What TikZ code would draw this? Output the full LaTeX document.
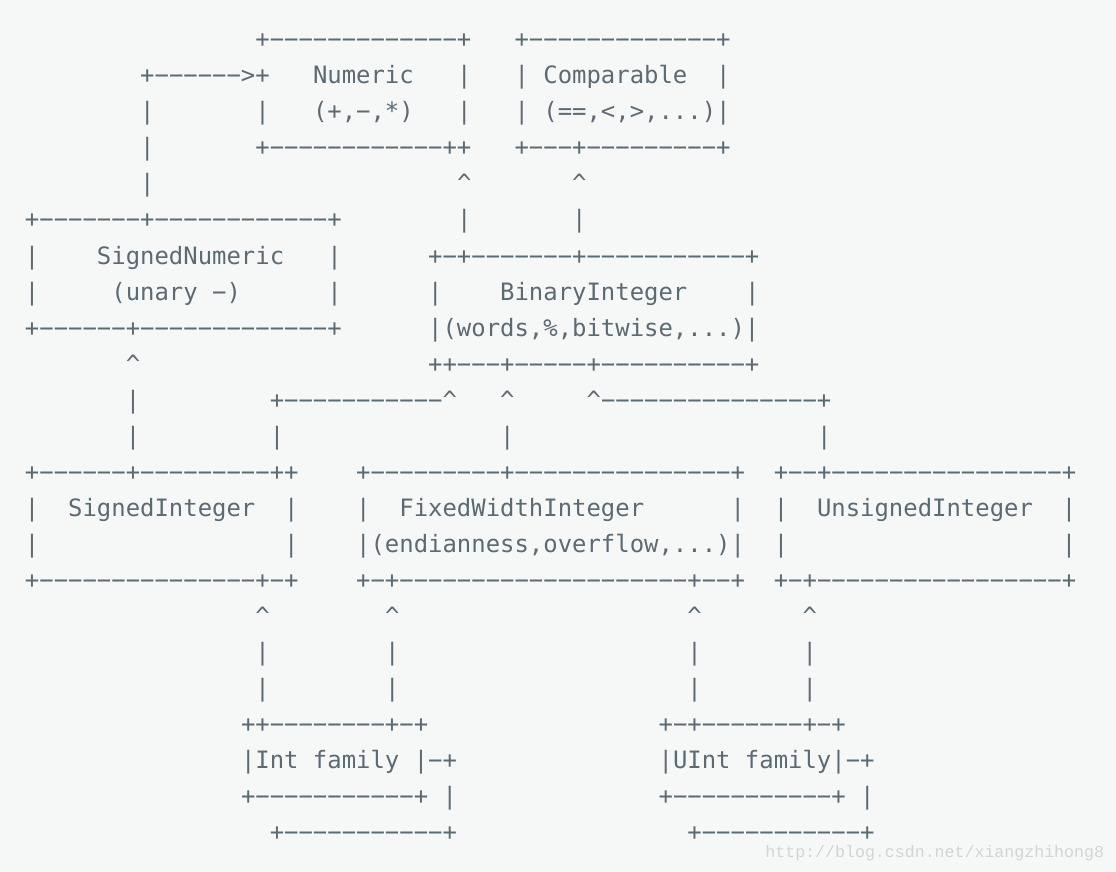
\documentclass[tikz,border=0pt]{standalone}
\usepackage{fontspec}
\setmonofont{DejaVu Sans Mono}
\newfontfamily\wmfont{Liberation Mono}
\usepackage{tikz}
\definecolor{asciigray}{HTML}{5B6B73}
\definecolor{pagegray}{HTML}{F6F7F7}
\definecolor{markgray}{HTML}{D4D4D4}
\tikzstyle{ch} = [anchor=base west, inner sep=0pt, outer sep=0pt, text=asciigray]
\newcommand{\up}{\textasciicircum}
\newcommand{\hl}[1]{\ifnum#1>0 \textminus\hl{\numexpr#1-1\relax}\fi}

\begin{document}
\begin{tikzpicture}[x=7.2pt,y=-18pt]
	\tikzstyle{every node}=[font=\ttfamily\fontsize{11.96}{18}\selectfont]
	\fill[pagegray] (-12.5pt,6pt) rectangle (545.5pt,-430pt);
	\useasboundingbox (-12.5pt,6pt) rectangle (545.5pt,-430pt);
	
	% ------------------- Numeric / Comparable ------------------- %
	\node[ch] (l1a) at (16,1) {+\hl{13}+};
	\node[ch] (l1b) at (34,1) {+\hl{13}+};
	\node[ch] (l2a) at (8,2) {+\hl{6}>+};
	\node[ch] (numeric) at (20,2) {Numeric};
	\node[ch] (l2b) at (30,2) {|};
	\node[ch] (comparable) at (34,2) {| Comparable};
	\node[ch] (l2c) at (48,2) {|};
	\node[ch] (l3a) at (8,3) {|};
	\node[ch] (l3b) at (16,3) {|};
	\node[ch] (numops) at (20,3) {(+,\hl{1},*)};
	\node[ch] (l3c) at (30,3) {|};
	\node[ch] (cmpops) at (34,3) {| (==,<,>,...)|};
	\node[ch] (l4a) at (8,4) {|};
	\node[ch] (l4b) at (16,4) {+\hl{12}++};
	\node[ch] (l4c) at (34,4) {+\hl{3}+\hl{9}+};
	\node[ch] (l5a) at (8,5) {|};
	\node[ch] (l5b) at (30,5) {\up};
	\node[ch] (l5c) at (38,5) {\up};
	
	% ------------------- SignedNumeric / BinaryInteger ------------------- %
	\node[ch] (l6a) at (0,6) {+\hl{7}+\hl{12}+};
	\node[ch] (l6b) at (30,6) {|};
	\node[ch] (l6c) at (38,6) {|};
	\node[ch] (l7a) at (0,7) {|};
	\node[ch] (signednumeric) at (5,7) {SignedNumeric};
	\node[ch] (l7b) at (21,7) {|};
	\node[ch] (l7c) at (28,7) {+\hl{1}+\hl{7}+\hl{11}+};
	\node[ch] (l8a) at (0,8) {|};
	\node[ch] (unary) at (6,8) {(unary \hl{1})};
	\node[ch] (l8b) at (21,8) {|};
	\node[ch] (l8c) at (28,8) {|};
	\node[ch] (binaryinteger) at (33,8) {BinaryInteger};
	\node[ch] (l8d) at (50,8) {|};
	\node[ch] (l9a) at (0,9) {+\hl{6}+\hl{13}+};
	\node[ch] (binops) at (28,9) {|(words,\%,bitwise,...)|};
	\node[ch] (l10a) at (7,10) {\up};
	\node[ch] (l10b) at (28,10) {++\hl{3}+\hl{5}+\hl{10}+};
	\node[ch] (l11a) at (7,11) {|};
	\node[ch] (l11b) at (17,11) {+\hl{11}\up};
	\node[ch] (l11c) at (33,11) {\up};
	\node[ch] (l11d) at (39,11) {\up\hl{15}+};
	\node[ch] (l12a) at (7,12) {|};
	\node[ch] (l12b) at (17,12) {|};
	\node[ch] (l12c) at (33,12) {|};
	\node[ch] (l12d) at (55,12) {|};
	
	% ------------------- SignedInteger / FixedWidthInteger / UnsignedInteger ------------------- %
	\node[ch] (l13a) at (0,13) {+\hl{6}+\hl{9}++};
	\node[ch] (l13b) at (23,13) {+\hl{9}+\hl{15}+};
	\node[ch] (l13c) at (52,13) {+\hl{2}+\hl{16}+};
	\node[ch] (l14a) at (0,14) {|};
	\node[ch] (signedinteger) at (3,14) {SignedInteger};
	\node[ch] (l14b) at (18,14) {|};
	\node[ch] (l14c) at (23,14) {|};
	\node[ch] (fixedwidthinteger) at (26,14) {FixedWidthInteger};
	\node[ch] (l14d) at (49,14) {|};
	\node[ch] (l14e) at (52,14) {|};
	\node[ch] (unsignedinteger) at (55,14) {UnsignedInteger};
	\node[ch] (l14f) at (72,14) {|};
	\node[ch] (l15a) at (0,15) {|};
	\node[ch] (l15b) at (18,15) {|};
	\node[ch] (fixedops) at (23,15) {|(endianness,overflow,...)|};
	\node[ch] (l15c) at (52,15) {|};
	\node[ch] (l15d) at (72,15) {|};
	\node[ch] (l16a) at (0,16) {+\hl{15}+\hl{1}+};
	\node[ch] (l16b) at (23,16) {+\hl{1}+\hl{20}+\hl{2}+};
	\node[ch] (l16c) at (52,16) {+\hl{1}+\hl{17}+};
	
	% ------------------- Vertical links ------------------- %
	\node[ch] (l17a) at (16,17) {\up};
	\node[ch] (l17b) at (25,17) {\up};
	\node[ch] (l17c) at (46,17) {\up};
	\node[ch] (l17d) at (54,17) {\up};
	\foreach \r in {18,19} {
		\node[ch] (l\r a) at (16,\r) {|};
		\node[ch] (l\r b) at (25,\r) {|};
		\node[ch] (l\r c) at (46,\r) {|};
		\node[ch] (l\r d) at (54,\r) {|};
	}
	
	% ------------------- Int family / UInt family ------------------- %
	\node[ch] (l20a) at (15,20) {++\hl{8}+\hl{1}+};
	\node[ch] (l20b) at (44,20) {+\hl{1}+\hl{7}+\hl{1}+};
	\node[ch] (intfamily) at (15,21) {|Int family |\hl{1}+};
	\node[ch] (uintfamily) at (44,21) {|UInt family|\hl{1}+};
	\node[ch] (l22a) at (15,22) {+\hl{11}+ |};
	\node[ch] (l22b) at (44,22) {+\hl{11}+ |};
	\node[ch] (l23a) at (17,23) {+\hl{11}+};
	\node[ch] (l23b) at (46,23) {+\hl{11}+};
	
	% ------------------- Watermark ------------------- %
	\node[anchor=base west, inner sep=0pt, text=markgray, font=\wmfont\fontsize{8.3}{10}\selectfont] (mark) at (370pt,-422.5pt) {http://blog.csdn.net/xiangzhihong8};
\end{tikzpicture}
\end{document}
